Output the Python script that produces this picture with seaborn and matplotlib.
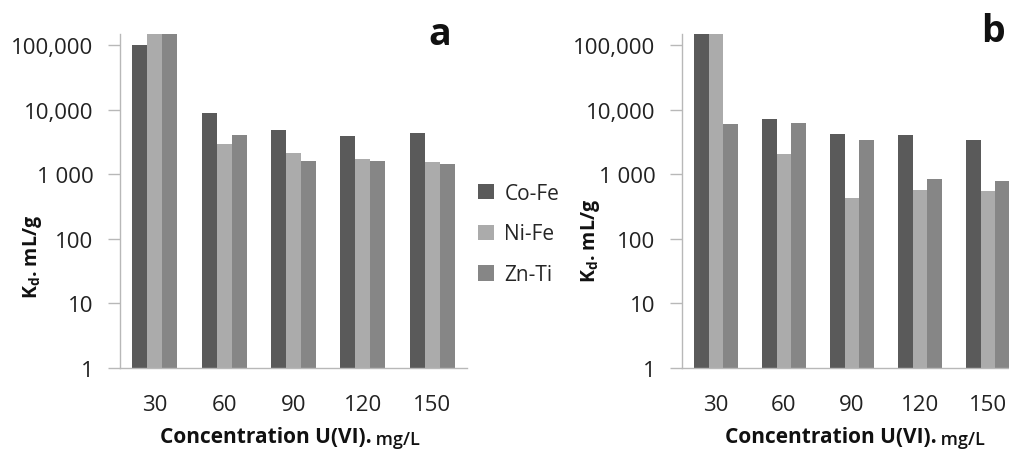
import numpy as np
import pandas as pd
import matplotlib
matplotlib.use("Agg")
import matplotlib.pyplot as plt
import seaborn as sns
from matplotlib.patches import Patch

# Distribution coefficients Kd (mL/g) for U(VI) sorption
concentrations = ["30", "60", "90", "120", "150"]
sorbents = ["Co-Fe", "Ni-Fe", "Zn-Ti"]

# panel a
kd_a_cofe = [100000, 8950, 4830, 3900, 4400]
kd_a_nife = [150000, 2960, 2180, 1740, 1580]
kd_a_znti = [150000, 4050, 1600, 1600, 1475]

# panel b
kd_b_cofe = [150000, 7150, 4240, 4050, 3390]
kd_b_nife = [150000, 2080, 438, 575, 550]
kd_b_znti = [6050, 6350, 3390, 850, 785]

ytick_values = [1, 10, 100, 1000, 10000, 100000]
ytick_labels = ["1", "10", "100", "1 000", "10,000", "100,000"]

colors = {"Co-Fe": "#5a5a5a", "Ni-Fe": "#ababab", "Zn-Ti": "#868686"}


def to_frame(cofe, nife, znti):
    rows = []
    for name, vals in zip(sorbents, [cofe, nife, znti]):
        for c, v in zip(concentrations, vals):
            rows.append({"conc": c, "sorbent": name, "kd": v})
    return pd.DataFrame(rows)


sns.set_theme(style="white")
plt.rcParams["font.family"] = ["Open Sans", "DejaVu Sans"]
plt.rcParams["mathtext.fontset"] = "custom"
plt.rcParams["mathtext.rm"] = "Open Sans"
plt.rcParams["mathtext.bf"] = "Open Sans:bold"

W, H = 1009, 452
fig = plt.figure(figsize=(W / 100, H / 100), dpi=100)

ax_a = fig.add_axes([120 / W, 1 - 369 / H, (467 - 120) / W, (369 - 35) / H])
ax_b = fig.add_axes([682 / W, 1 - 369 / H, (1022 - 682) / W, (369 - 35) / H])

spine_col = "#b8b8b8"
tick_fs = 16

panels = [
    (ax_a, to_frame(kd_a_cofe, kd_a_nife, kd_a_znti), "a", (440, 35), (33, 257)),
    (ax_b, to_frame(kd_b_cofe, kd_b_nife, kd_b_znti), "b", (993, 32), (590, 241)),
]

for ax, df, letter, letter_xy, ylab_xy in panels:
    ax.set_yscale("log")
    sns.barplot(data=df, x="conc", y="kd", hue="sorbent", order=concentrations,
                hue_order=sorbents, palette=colors, width=0.65, gap=0,
                saturation=1, linewidth=0, legend=False, ax=ax)
    ax.set_ylim(1, 1.5e5)
    ax.set_xlim(-0.5, 4.5)
    ax.set_yticks(ytick_values)
    ax.set_yticklabels(ytick_labels)
    ax.yaxis.set_minor_locator(matplotlib.ticker.NullLocator())
    for s in ["top", "right"]:
        ax.spines[s].set_visible(False)
    for s in ["left", "bottom"]:
        ax.spines[s].set_color(spine_col)
        ax.spines[s].set_linewidth(1.0)
    ax.tick_params(axis="y", which="major", length=9, width=1.0, color=spine_col,
                   direction="out", left=True, pad=10, labelsize=tick_fs,
                   labelcolor="#222222")
    ax.tick_params(axis="x", length=0, pad=19, labelsize=tick_fs, labelcolor="#222222")
    ax.set_xlabel("")
    ax.set_ylabel("")
    ax.set_facecolor("none")

    # y axis title
    fig.text(ylab_xy[0] / W, 1 - ylab_xy[1] / H, r"K$_\mathbf{d}$. mL/g",
             rotation=90, ha="center", va="center", fontsize=14,
             fontweight="bold", color="#111111")
    # panel letter
    fig.text(letter_xy[0] / W, 1 - letter_xy[1] / H, letter, ha="center",
             va="center", fontsize=27, fontweight="bold", color="#111111")

# x axis titles: bold quantity followed by lighter unit
fig.canvas.draw()
renderer = fig.canvas.get_renderer()
for cx in [290, 855]:
    t1 = fig.text(0, 1 - 438 / H, "Concentration U(VI).", fontsize=15,
                  fontweight="bold", color="#111111", va="center", ha="left")
    t2 = fig.text(0, 1 - 440 / H, " mg/L", fontsize=13, fontweight="semibold",
                  color="#111111", va="center", ha="left")
    w1 = t1.get_window_extent(renderer).width
    w2 = t2.get_window_extent(renderer).width
    x0 = cx - (w1 + w2) / 2
    t1.set_x(x0 / W)
    t2.set_x((x0 + w1) / W)

# legend between the two panels
handles = [Patch(facecolor=colors[s], edgecolor="none", label=s) for s in sorbents]
fig.legend(handles=handles, loc="center left", bbox_to_anchor=(470 / W, 1 - 235 / H),
           frameon=False, fontsize=15, handlelength=0.75, handleheight=0.75,
           handletextpad=0.5, labelspacing=0.95, borderaxespad=0)

fig.savefig("out.png", dpi=100)
